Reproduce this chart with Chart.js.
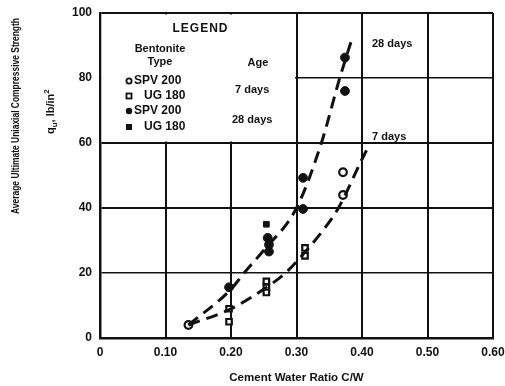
<!DOCTYPE html>
<html><head><meta charset="utf-8">
<script src="https://cdn.jsdelivr.net/npm/chart.js@4"></script>
<style>html,body{margin:0;padding:0;background:#fff}#w{width:505px;height:386px}</style>
</head><body><div id="w"><canvas id="c"></canvas></div>
<script>
// ---- data ----
const xTickLabels = ['0', '0.10', '0.20', '0.30', '0.40', '0.50', '0.60'];
const yTickLabels = ['0', '20', '40', '60', '80', '100'];

// SPV 200, 7 days (open circles)
const spv7X = [0.135, 0.371, 0.371];
const spv7Y = [4, 44, 51];
// UG 180, 7 days (open squares)
const ug7X = [0.197, 0.197, 0.254, 0.254, 0.254, 0.313, 0.313];
const ug7Y = [9, 5, 17.4, 15.6, 14, 27.7, 25.3];
// SPV 200, 28 days (filled circles)
const spv28X = [0.197, 0.256, 0.258, 0.258, 0.31, 0.31, 0.374, 0.374];
const spv28Y = [15.6, 30.8, 28.7, 26.6, 39.7, 49.3, 86.3, 76];
// UG 180, 28 days (filled squares)
const ug28X = [0.254];
const ug28Y = [35];

// fitted dashed curves
const curve28X = [0.135, 0.20, 0.22, 0.25, 0.30, 0.338, 0.366, 0.383];
const curve28Y = [4, 15, 20, 27, 40, 60, 80, 91];
const curve7X = [0.135, 0.20, 0.25, 0.283, 0.30, 0.34, 0.364, 0.40, 0.41];
const curve7Y = [4, 9, 15, 20, 23.5, 33, 40, 55, 59];

const legendRows = ['SPV 200', 'UG 180', 'SPV 200', 'UG 180'];
const legendAges = ['7 days', '28 days'];

const pts = (xs, ys) => xs.map((x, i) => ({x, y: ys[i]}));
const INK = '#111';
const FONT = '"Liberation Sans", Arial, sans-serif';

const overlay = {
  id: 'overlay',
  beforeDatasetsDraw(chart) {
    const {ctx, scales: {x, y}} = chart;
    const l = x.getPixelForValue(0) + 1.5, r = x.getPixelForValue(0.3) - 1.5;
    const t = y.getPixelForValue(100) + 1.5, b = y.getPixelForValue(60) - 1.5;
    ctx.save();
    ctx.fillStyle = '#fff';
    ctx.fillRect(l, t, r - l, b - t);
    ctx.fillStyle = INK;
    ctx.strokeStyle = INK;
    ctx.textBaseline = 'middle';
    ctx.textAlign = 'center';
    ctx.font = 'bold 12px ' + FONT;
    ctx.fillText('L E G E N D'.replace(/ /g, '\u200A'), 200, 29);
    ctx.font = 'bold 11px ' + FONT;
    ctx.fillText('Bentonite', 160, 49);
    ctx.fillText('Type', 160, 62);
    ctx.fillText('Age', 258, 63);
    ctx.textAlign = 'left';
    ctx.font = 'bold 12px ' + FONT;
    const rowsY = [81, 96, 111, 127];
    rowsY.forEach((ry, i) => {
      const mx = 129;
      ctx.lineWidth = 1.8;
      if (i === 0) { ctx.beginPath(); ctx.arc(mx, ry, 2.6, 0, Math.PI * 2); ctx.stroke(); }
      if (i === 1) { ctx.strokeRect(mx - 2.5, ry - 2.5, 5, 5); }
      if (i === 2) { ctx.beginPath(); ctx.arc(mx, ry, 3.2, 0, Math.PI * 2); ctx.fill(); }
      if (i === 3) { ctx.fillRect(mx - 3, ry - 3, 6, 6); }
      ctx.fillText(legendRows[i], i % 2 === 0 ? 134 : 144, ry);
    });
    ctx.font = 'bold 11px ' + FONT;
    ctx.fillText(legendAges[0], 235, 90);
    ctx.fillText(legendAges[1], 232, 120);
    ctx.fillText('28 days', 372, 44);
    ctx.fillText('7 days', 372, 137);
    ctx.restore();
  },
  afterDraw(chart) {
    const {ctx} = chart;
    ctx.save();
    ctx.fillStyle = INK;
    ctx.textAlign = 'center';
    ctx.textBaseline = 'middle';
    ctx.translate(16, 116);
    ctx.rotate(-Math.PI / 2);
    const t1 = 'Average Ultimate Uniaxial Compressive Strength';
    ctx.font = 'bold 10px ' + FONT;
    const w = ctx.measureText(t1).width;
    ctx.scale(196 / w, 1);
    ctx.fillText(t1, 0, 0);
    ctx.restore();
    ctx.save();
    ctx.fillStyle = INK;
    ctx.translate(50, 116);
    ctx.rotate(-Math.PI / 2);
    ctx.textBaseline = 'alphabetic';
    ctx.textAlign = 'left';
    let cx = -18;
    ctx.font = 'bold 11px ' + FONT;
    ctx.fillText('q', cx, 4); cx += ctx.measureText('q').width;
    ctx.font = 'bold 8px ' + FONT;
    ctx.fillText('u', cx, 7); cx += ctx.measureText('u').width;
    ctx.font = 'bold 11px ' + FONT;
    ctx.fillText(', lb/in', cx, 4); cx += ctx.measureText(', lb/in').width;
    ctx.font = 'bold 8px ' + FONT;
    ctx.fillText('2', cx, -1);
    ctx.restore();
  }
};

const yDash = c => {
  const v = c.tick && c.tick.value;
  if (v === 80) return [5, 4];
  if (v === 20) return [14, 3];
  return [];
};

new Chart(document.getElementById('c'), {
  type: 'scatter',
  data: {
    datasets: [
      { label: '28 days curve', type: 'line', data: pts(curve28X, curve28Y), borderColor: INK, borderWidth: 3,
        borderDash: [12, 7], pointRadius: 0, tension: 0.4, cubicInterpolationMode: 'monotone', fill: false },
      { label: '7 days curve', type: 'line', data: pts(curve7X, curve7Y), borderColor: INK, borderWidth: 3,
        borderDash: [12, 7], pointRadius: 0, tension: 0.4, cubicInterpolationMode: 'monotone', fill: false },
      { label: 'SPV 200 7 days', data: pts(spv7X, spv7Y), pointStyle: 'circle', pointRadius: 3.8,
        borderColor: INK, backgroundColor: '#fff', borderWidth: 2.2 },
      { label: 'UG 180 7 days', data: pts(ug7X, ug7Y), pointStyle: 'rect', pointRadius: 3.9,
        borderColor: INK, backgroundColor: '#fff', borderWidth: 2.2 },
      { label: 'SPV 200 28 days', data: pts(spv28X, spv28Y), pointStyle: 'circle', pointRadius: 4.4,
        borderColor: INK, backgroundColor: INK, borderWidth: 1 },
      { label: 'UG 180 28 days', data: pts(ug28X, ug28Y), pointStyle: 'rect', pointRadius: 4,
        borderColor: INK, backgroundColor: INK, borderWidth: 1 }
    ]
  },
  options: {
    responsive: true,
    maintainAspectRatio: false,
    animation: false,
    layout: { padding: { left: 0, right: 12, top: 13, bottom: 0 } },
    plugins: { legend: { display: false }, tooltip: { enabled: false } },
    scales: {
      x: {
        type: 'linear', min: 0, max: 0.6,
        afterFit: s => { s.height = 48; s.paddingLeft = 0; s.paddingRight = 0; },
        afterBuildTicks: s => { s.ticks = xTickLabels.map((_, i) => ({value: i / 10})); },
        ticks: { callback: (v, i) => xTickLabels[i], color: INK, padding: 7, maxRotation: 0,
          font: { family: FONT, size: 12, weight: 'bold' } },
        grid: { color: INK, lineWidth: 2, drawTicks: false },
        border: { color: INK, width: 2.5 },
        title: { display: true, text: 'Cement Water Ratio C/W', color: INK, padding: { top: 0, bottom: 1 },
          font: { family: FONT, size: 11.5, weight: 'bold' } }
      },
      y: {
        type: 'linear', min: 0, max: 100,
        afterFit: s => { s.width = 100; s.paddingTop = 0; s.paddingBottom = 0; },
        afterBuildTicks: s => { s.ticks = yTickLabels.map(v => ({value: Number(v)})); },
        ticks: { callback: (v, i) => yTickLabels[i], color: INK, padding: 8,
          font: { family: FONT, size: 12, weight: 'bold' } },
        grid: { color: INK, lineWidth: c => (c.tick && (c.tick.value === 20 || c.tick.value === 80)) ? 1.5 : 2,
          drawTicks: false, borderDash: yDash, dash: yDash },
        border: { color: INK, width: 2.5 }
      }
    }
  },
  plugins: [overlay]
});
</script></body></html>
